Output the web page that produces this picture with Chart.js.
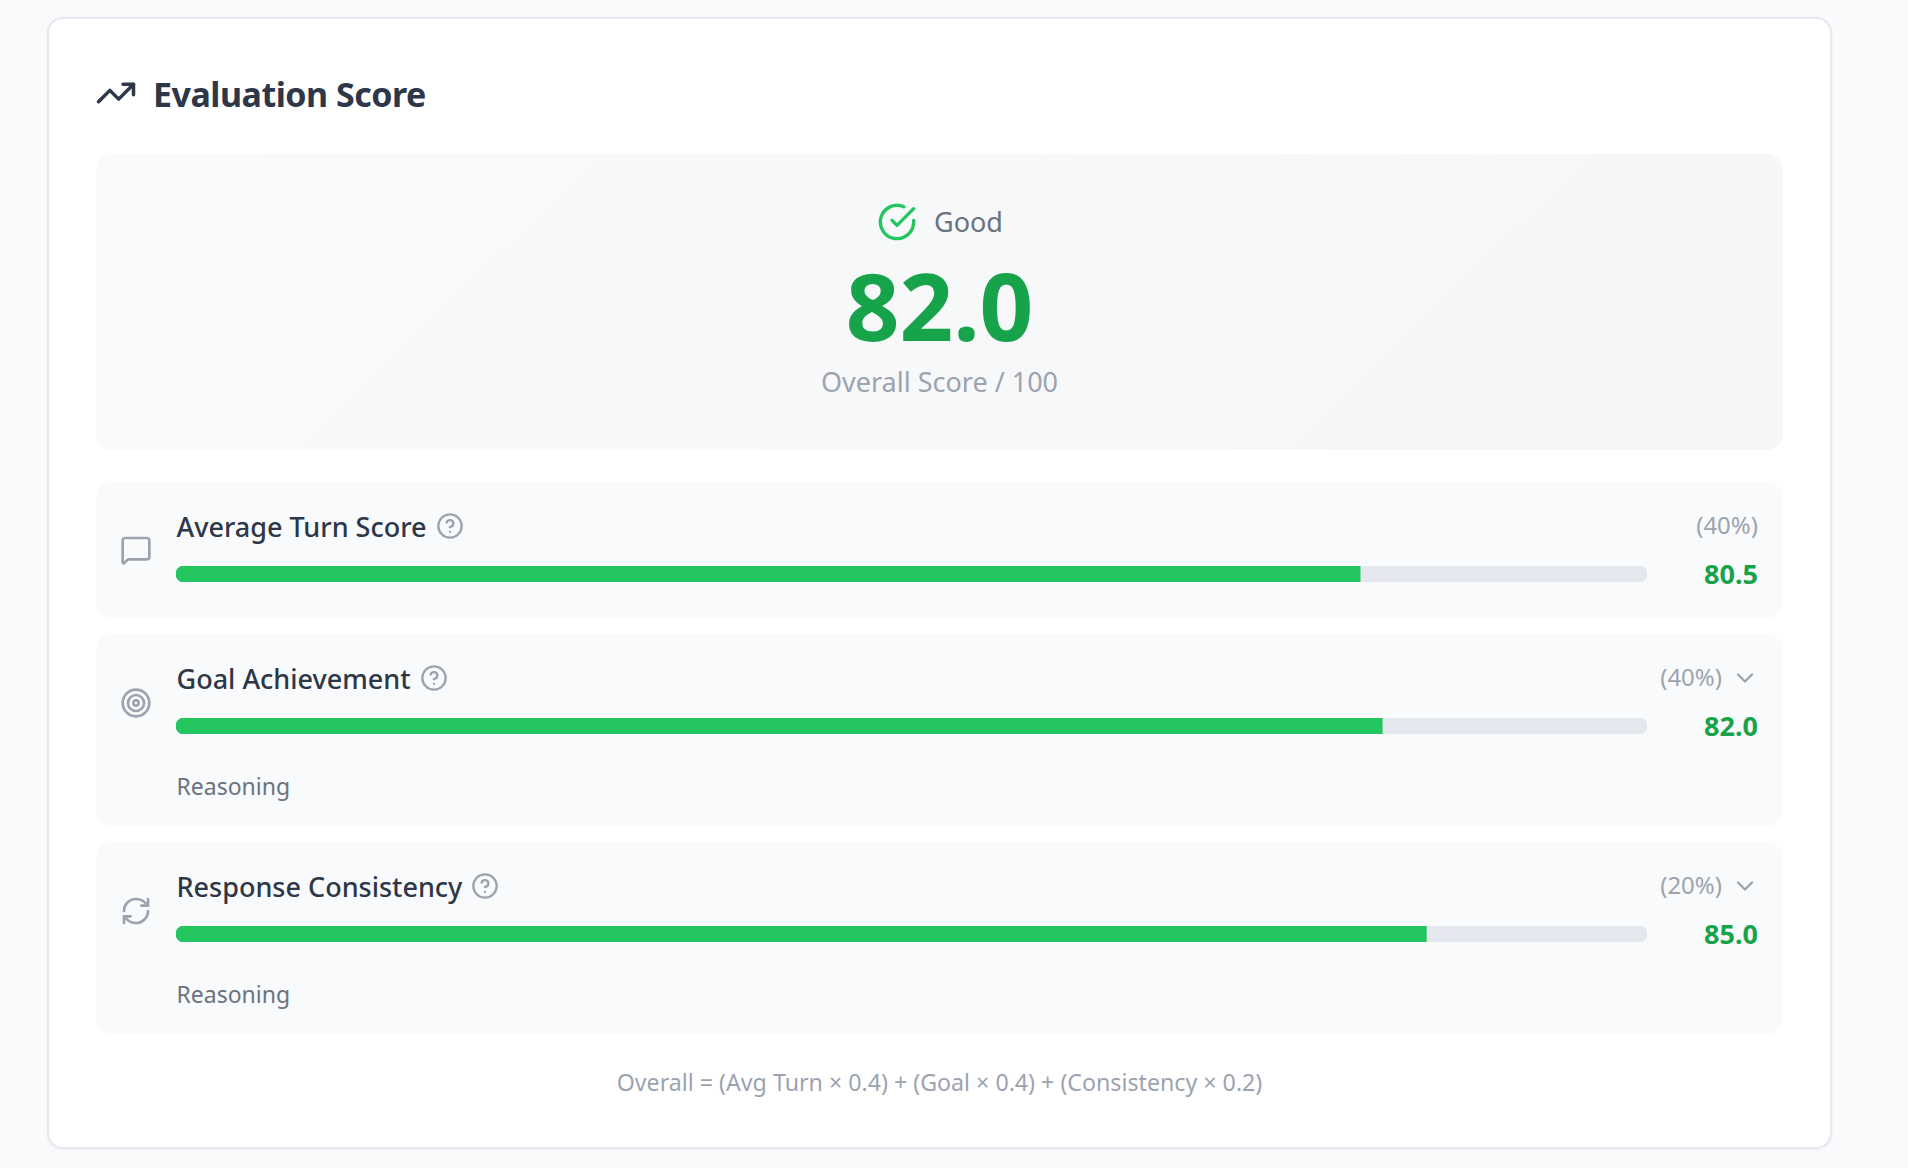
<!DOCTYPE html>
<html lang="en">
<head>
<meta charset="UTF-8" />
<title>Evaluation Score</title>
<script src="https://cdn.jsdelivr.net/npm/chart.js"></script>
<style>
  html, body { margin: 0; width: 1908px; height: 1168px; overflow: hidden; background: #f9fafb; font-family: "Noto Sans", sans-serif; }
  .abs, .row > * { position: absolute; line-height: 1; white-space: nowrap; }
  svg { fill: none; stroke: currentColor; stroke-width: 2; stroke-linecap: round; stroke-linejoin: round; display: block; }
  .card { left: 47px; top: 17px; width: 1781px; height: 1128px; background: #fff; border: 2px solid #e5e8ef; border-radius: 16px; box-shadow: 0 1px 3px rgba(0,0,0,.05); position: absolute; }
  .title { left: 153px; top: 77px; font-size: 34px; letter-spacing: -.5px; font-weight: 700; color: #2d3748; }
  .hero { left: 96px; top: 154px; width: 1687px; height: 296px; border-radius: 16px; background: linear-gradient(135deg, #f9fafb, #f4f6f8); }
  .good { left: 934px; top: 208px; font-size: 27px; color: #6b7280; }
  .center { left: 939.5px; transform: translateX(-50%); }
  .overall { top: 258px; font-size: 94px; font-weight: 700; color: #16a34a; }
  .sub { top: 368px; font-size: 27px; color: #9ca3af; }
  .row { position: absolute; left: 96px; width: 1687px; background: #f9fafb; border-radius: 16px; }
  .icon { left: 24px; top: 52px; color: #9ca3af; }
  .row:not(:first-child) .icon { top: 53px; }
  .name { left: 80.5px; top: 30px; font-size: 27px; font-weight: 500; color: #2d3748; display: flex; align-items: center; }
  .name svg { margin-left: 9px; color: #9ca3af; }
  .weight { right: 25px; top: 31px; font-size: 24px; color: #9ca3af; }
  .weight.more { right: 61px; }
  .chev { right: 24px; top: 30px; color: #9ca3af; }
  .track { left: 80px; top: 84px; width: 1471px; height: 16px; }
  .score { right: 25px; top: 78px; font-size: 27px; font-weight: 700; color: #16a34a; }
  .reason { left: 80.5px; top: 141px; font-size: 23px; color: #6b7280; }
  .formula { top: 1071px; font-size: 23.2px; color: #9ca3af; }
</style>
</head>
<body>

<div class="card"></div>
<svg class="abs" style="left:95px;top:72px;color:#2d3748" width="42" height="42" viewBox="0 0 24 24"><polyline points="22 7 13.5 15.5 8.5 10.5 2 17"/><polyline points="16 7 22 7 22 13"/></svg>
<div class="abs title">Evaluation Score</div>
<div class="abs hero"></div>
<svg class="abs" style="left:877px;top:202px;color:#22c55e" width="40" height="40" viewBox="0 0 24 24"><path d="M22 11.08V12a10 10 0 1 1-5.93-9.14"/><polyline points="22 4 12 14.01 9 11.01"/></svg>
<div class="abs good">Good</div>
<div class="abs center overall" id="overall"></div>
<div class="abs center sub">Overall Score / 100</div>
<div id="rows"></div>
<div class="abs center formula">Overall = (Avg Turn × 0.4) + (Goal × 0.4) + (Consistency × 0.2)</div>

<script>
const overallScore = 82.0;
const categories = ["Average Turn Score", "Goal Achievement", "Response Consistency"];
const weights = ["(40%)", "(40%)", "(20%)"];
const scores = [80.5, 82.0, 85.0];
const hasReasoning = [false, true, true];
const scaleMax = 100;

const rowTops = [482, 634, 842];
const rowHeights = [136, 192, 192];

const icons = [
  '<path d="M22 17a2 2 0 0 1-2 2H6.828a2 2 0 0 0-1.414.586l-2.202 2.202A.71.71 0 0 1 2 21.286V5a2 2 0 0 1 2-2h16a2 2 0 0 1 2 2z"/>',
  '<circle cx="12" cy="12" r="10"/><circle cx="12" cy="12" r="6"/><circle cx="12" cy="12" r="2"/>',
  '<path d="M3 12a9 9 0 0 1 9-9 9.75 9.75 0 0 1 6.74 2.74L21 8"/><path d="M21 3v5h-5"/><path d="M21 12a9 9 0 0 1-9 9 9.75 9.75 0 0 1-6.74-2.74L3 16"/><path d="M8 16H3v5"/>'
];
const helpIcon = '<svg width="28" height="28" viewBox="0 0 24 24"><circle cx="12" cy="12" r="10"/><path d="M9.09 9a3 3 0 0 1 5.83 1c0 2-3 3-3 3"/><path d="M12 17h.01"/></svg>';
const chevIcon = '<svg class="chev" width="28" height="28" viewBox="0 0 24 24"><path d="m6 9 6 6 6-6"/></svg>';

document.getElementById("overall").textContent = overallScore.toFixed(1);

const rows = document.getElementById("rows");
categories.forEach((name, i) => {
  const row = document.createElement("div");
  row.className = "row";
  row.style.top = rowTops[i] + "px";
  row.style.height = rowHeights[i] + "px";
  row.innerHTML =
    `<svg class="icon" width="32" height="32" viewBox="0 0 24 24">${icons[i]}</svg>` +
    `<div class="name">${name}${helpIcon}</div>` +
    `<div class="weight${hasReasoning[i] ? " more" : ""}">${weights[i]}</div>` +
    (hasReasoning[i] ? chevIcon : "") +
    `<div class="track"><canvas id="bar${i}"></canvas></div>` +
    `<div class="score">${scores[i].toFixed(1)}</div>` +
    (hasReasoning[i] ? `<div class="reason">Reasoning</div>` : "");
  rows.appendChild(row);

  new Chart(document.getElementById("bar" + i), {
    type: "bar",
    data: {
      labels: [name],
      datasets: [
        { label: "Score", data: [scores[i]], backgroundColor: "#22c55e", order: 1,
          borderRadius: { topLeft: 8, bottomLeft: 8 }, borderSkipped: false },
        { label: "Scale", data: [scaleMax], backgroundColor: "#e4e7ee", order: 2,
          borderRadius: 8, borderSkipped: false }
      ]
    },
    options: {
      indexAxis: "y",
      responsive: true,
      maintainAspectRatio: false,
      animation: false,
      datasets: { bar: { grouped: false, barPercentage: 1, categoryPercentage: 1 } },
      layout: { padding: 0 },
      plugins: { legend: { display: false }, tooltip: { enabled: false } },
      scales: {
        x: { display: false, min: 0, max: scaleMax },
        y: { display: false }
      }
    }
  });
});
</script>

</body>
</html>
